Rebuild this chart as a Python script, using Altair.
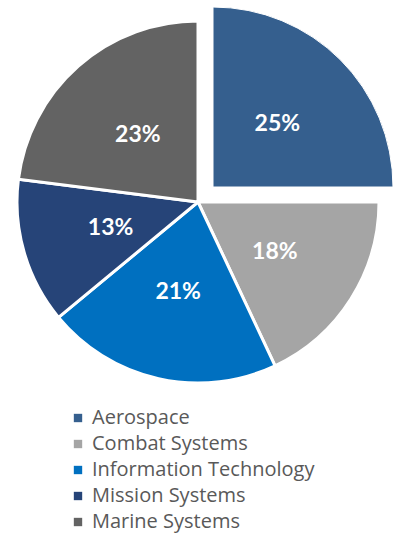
import altair as alt
import pandas as pd

categories = ["Aerospace", "Combat Systems", "Information Technology", "Mission Systems", "Marine Systems"]
shares = [25, 18, 21, 13, 23]
colors = ["#355F8E", "#A5A5A5", "#0070C0", "#264478", "#636363"]

df = pd.DataFrame({"category": categories, "share": shares, "order": list(range(len(categories)))})

base = (
    alt.Chart(df)
    .transform_window(end="sum(share)", frame=[None, 0], sort=[{"field": "order"}])
    .transform_calculate(
        start="datum.end - datum.share",
        mid="datum.end - datum.share / 2",
        label="datum.share + '%'",
    )
)

theta_scale = alt.Scale(domain=[0, 100], range=[0, 6.283185307179586])
color_enc = alt.Color(
    "category:N",
    scale=alt.Scale(domain=categories, range=colors),
    sort=categories,
    legend=alt.Legend(
        title=None,
        orient="none",
        legendX=68,
        legendY=408,
        symbolType="square",
        symbolSize=70,
        symbolStrokeWidth=0,
        labelFont="Open Sans",
        labelFontSize=20,
        labelColor="#595959",
        labelLimit=0,
        rowPadding=6,
        labelOffset=4,
        symbolOffset=0,
    ),
)

main_c = (198, 202)
exp_c = (213, 187)
R = 181

rest = base.transform_filter("datum.category != 'Aerospace'")
aero = base.transform_filter("datum.category == 'Aerospace'")

rest_arc = rest.mark_arc(x=main_c[0], y=main_c[1], outerRadius=R, stroke="white", strokeWidth=3).encode(
    theta=alt.Theta("start:Q", scale=theta_scale), theta2="end:Q", color=color_enc
)
aero_arc = aero.mark_arc(x=exp_c[0], y=exp_c[1], outerRadius=R - 1, stroke="white", strokeWidth=1).encode(
    theta=alt.Theta("start:Q", scale=theta_scale), theta2="end:Q", color=color_enc
)

text_props = dict(radius=91, font="Lato", fontSize=23, fontWeight="bold", color="white", align="center", baseline="middle", dy=1)
rest_txt = rest.mark_text(x=main_c[0], y=main_c[1], **text_props).encode(
    theta=alt.Theta("mid:Q", scale=theta_scale), text="label:N"
)
aero_txt = aero.mark_text(x=exp_c[0], y=exp_c[1], **text_props).encode(
    theta=alt.Theta("mid:Q", scale=theta_scale), text="label:N"
)

chart = (
    alt.layer(rest_arc, aero_arc, rest_txt, aero_txt)
    .properties(width=398, height=536, autosize=alt.AutoSizeParams(type="none"), padding=0)
    .configure_view(stroke=None)
)

chart.save("out.html", embed_options={"renderer": "svg", "actions": False})
